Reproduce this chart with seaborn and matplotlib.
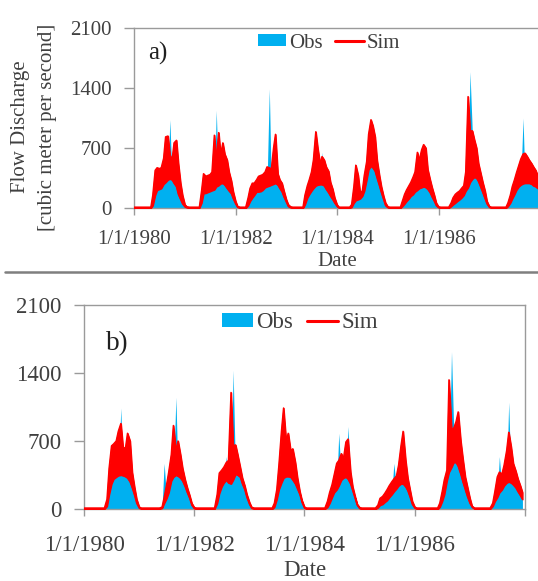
import matplotlib
matplotlib.use("Agg")
import matplotlib.pyplot as plt
from matplotlib.patches import Patch
from matplotlib.lines import Line2D
import numpy as np
import pandas as pd
import seaborn as sns

# ---------------------------------------------------------------
# Flow discharge (cubic meter per second), semi-monthly steps,
# one row per year 1980..1987 (24 values per row).
# obs      : observed discharge
# sim_low  : lower envelope of the simulated discharge
# sim_high : upper envelope of the simulated discharge
# ---------------------------------------------------------------

obs_a = [
    0, 0, 0, 0, 0, 0, 0, 0, 0, 30, 150, 210, 220, 230, 280, 300, 330, 1030, 330, 290, 250, 160, 100, 50,
    15, 5, 0, 0, 0, 0, 0, 0, 60, 170, 175, 185, 195, 205, 215, 1140, 265, 285, 290, 270, 230, 200, 170, 110,
    50, 10, 0, 0, 0, 0, 30, 80, 120, 150, 190, 190, 195, 210, 240, 250, 1390, 270, 280, 290, 270, 230, 190, 130,
    70, 20, 5, 0, 0, 0, 0, 0, 0, 40, 120, 160, 200, 230, 260, 270, 275, 650, 260, 220, 180, 140, 100, 60,
    20, 0, 0, 0, 0, 0, 0, 10, 60, 90, 100, 110, 140, 200, 330, 450, 490, 470, 430, 350, 260, 180, 100, 30,
    5, 0, 0, 0, 0, 0, 0, 20, 50, 80, 110, 140, 160, 190, 210, 230, 240, 250, 240, 220, 180, 130, 80, 30,
    5, 0, 0, 0, 0, 0, 20, 40, 60, 80, 100, 120, 150, 200, 240, 1590, 880, 360, 350, 310, 240, 180, 110, 50,
    10, 0, 0, 0, 0, 0, 0, 0, 0, 20, 60, 110, 160, 210, 250, 270, 1050, 290, 290, 290, 280, 260, 250, 230,
]
sim_low_a = [
    0, 0, 0, 0, 0, 0, 0, 0, 0, 30, 150, 210, 220, 230, 280, 300, 330, 340, 330, 290, 250, 160, 100, 50,
    15, 5, 0, 0, 0, 0, 0, 0, 60, 170, 175, 185, 195, 205, 215, 250, 265, 285, 290, 270, 230, 200, 170, 110,
    50, 10, 0, 0, 0, 0, 30, 80, 120, 150, 190, 190, 195, 210, 240, 250, 260, 270, 280, 290, 270, 230, 190, 130,
    70, 20, 5, 0, 0, 0, 0, 0, 0, 40, 120, 160, 200, 230, 260, 270, 275, 275, 260, 220, 180, 140, 100, 60,
    20, 0, 0, 0, 0, 0, 0, 10, 60, 90, 100, 110, 140, 200, 330, 450, 490, 470, 430, 350, 260, 180, 100, 30,
    5, 0, 0, 0, 0, 0, 0, 20, 50, 80, 110, 140, 160, 190, 210, 230, 240, 250, 240, 220, 180, 130, 80, 30,
    5, 0, 0, 0, 0, 0, 20, 40, 60, 80, 100, 120, 150, 200, 240, 300, 340, 360, 350, 310, 240, 180, 110, 50,
    10, 0, 0, 0, 0, 0, 0, 0, 0, 20, 60, 110, 160, 210, 250, 270, 285, 290, 290, 290, 280, 260, 250, 230,
]
sim_high_a = [
    10, 10, 10, 10, 10, 10, 10, 10, 10, 150, 440, 470, 460, 470, 580, 830, 840, 620, 560, 760, 790, 520, 290, 150,
    40, 15, 10, 10, 10, 10, 10, 10, 200, 400, 370, 380, 390, 420, 850, 560, 880, 620, 760, 630, 560, 420, 320, 190,
    80, 20, 10, 10, 10, 10, 120, 230, 290, 290, 330, 370, 380, 390, 420, 480, 470, 450, 700, 860, 400, 330, 290, 200,
    100, 40, 15, 10, 10, 10, 10, 10, 10, 150, 260, 330, 420, 560, 890, 700, 520, 600, 560, 480, 430, 300, 220, 120,
    40, 10, 10, 10, 10, 10, 10, 40, 250, 500, 380, 180, 200, 380, 540, 860, 1030, 960, 830, 560, 380, 250, 140, 60,
    15, 10, 10, 10, 10, 10, 10, 80, 160, 210, 260, 300, 360, 420, 650, 560, 680, 740, 700, 450, 330, 240, 150, 60,
    15, 10, 10, 10, 10, 10, 60, 120, 160, 180, 200, 230, 260, 420, 1300, 900, 900, 800, 700, 520, 400, 300, 200, 80,
    20, 10, 10, 10, 10, 10, 10, 10, 10, 60, 150, 250, 330, 410, 500, 570, 630, 640, 600, 560, 520, 480, 440, 380,
]

obs_b = [
    0, 0, 0, 0, 0, 0, 0, 0, 0, 0, 30, 150, 260, 310, 330, 345, 1040, 345, 335, 320, 280, 220, 140, 60,
    10, 0, 0, 0, 0, 0, 0, 0, 0, 0, 10, 470, 110, 170, 290, 330, 1150, 340, 320, 290, 230, 170, 110, 40,
    5, 0, 0, 0, 0, 0, 0, 0, 0, 0, 60, 160, 230, 270, 540, 270, 260, 1430, 360, 350, 330, 260, 200, 120,
    50, 10, 0, 0, 0, 0, 0, 0, 0, 0, 0, 20, 100, 200, 270, 320, 335, 335, 330, 300, 260, 210, 150, 70,
    10, 0, 0, 0, 0, 0, 0, 0, 0, 0, 20, 60, 120, 170, 200, 780, 300, 320, 330, 850, 260, 190, 110, 40,
    5, 0, 0, 0, 0, 0, 0, 0, 15, 40, 50, 70, 90, 120, 150, 470, 210, 240, 260, 260, 230, 190, 120, 50,
    10, 0, 0, 0, 0, 0, 0, 0, 0, 0, 0, 20, 80, 150, 290, 380, 1620, 860, 480, 440, 360, 280, 200, 130,
    60, 20, 0, 0, 0, 0, 0, 0, 0, 0, 30, 80, 120, 540, 200, 240, 270, 1100, 270, 250, 220, 180, 140, 100,
]
sim_low_b = [
    0, 0, 0, 0, 0, 0, 0, 0, 0, 0, 30, 150, 260, 310, 330, 345, 350, 345, 335, 320, 280, 220, 140, 60,
    10, 0, 0, 0, 0, 0, 0, 0, 0, 0, 10, 60, 110, 170, 290, 330, 350, 340, 320, 290, 230, 170, 110, 40,
    5, 0, 0, 0, 0, 0, 0, 0, 0, 0, 60, 160, 230, 270, 300, 270, 260, 300, 360, 350, 330, 260, 200, 120,
    50, 10, 0, 0, 0, 0, 0, 0, 0, 0, 0, 20, 100, 200, 270, 320, 335, 335, 330, 300, 260, 210, 150, 70,
    10, 0, 0, 0, 0, 0, 0, 0, 0, 0, 20, 60, 120, 170, 200, 240, 300, 320, 330, 310, 260, 190, 110, 40,
    5, 0, 0, 0, 0, 0, 0, 0, 15, 40, 50, 70, 90, 120, 150, 180, 210, 240, 260, 260, 230, 190, 120, 50,
    10, 0, 0, 0, 0, 0, 0, 0, 0, 0, 0, 20, 80, 150, 290, 380, 430, 480, 480, 440, 360, 280, 200, 130,
    60, 20, 0, 0, 0, 0, 0, 0, 0, 0, 30, 80, 120, 170, 200, 240, 270, 280, 270, 250, 220, 180, 140, 100,
]
sim_high_b = [
    10, 10, 10, 10, 10, 10, 10, 10, 10, 10, 100, 420, 650, 670, 700, 800, 880, 640, 620, 780, 700, 380, 220, 100,
    20, 10, 10, 10, 10, 10, 10, 10, 10, 10, 20, 120, 250, 380, 560, 860, 600, 700, 560, 420, 300, 220, 140, 60,
    15, 10, 10, 10, 10, 10, 10, 10, 10, 10, 150, 370, 400, 430, 480, 500, 1200, 650, 660, 560, 430, 320, 240, 150,
    70, 20, 10, 10, 10, 10, 10, 10, 10, 10, 10, 60, 200, 450, 800, 1040, 700, 780, 600, 620, 480, 320, 180, 90,
    20, 10, 10, 10, 10, 10, 10, 10, 10, 10, 80, 170, 250, 350, 470, 500, 570, 520, 690, 720, 380, 230, 130, 50,
    15, 10, 10, 10, 10, 10, 10, 10, 40, 110, 130, 160, 200, 240, 280, 310, 340, 450, 650, 800, 500, 320, 190, 80,
    20, 10, 10, 10, 10, 10, 10, 10, 10, 10, 10, 60, 180, 300, 400, 1330, 820, 830, 900, 1000, 700, 520, 330, 230,
    110, 30, 10, 10, 10, 10, 10, 10, 10, 10, 60, 180, 330, 380, 360, 450, 600, 790, 640, 470, 390, 310, 240, 170,
]

dates = pd.date_range("1980-01-01", periods=len(obs_a), freq="SMS")
y_ticks = [0, 700, 1400, 2100]
tick_years = [1980, 1982, 1984, 1986, 1988]
tick_labels = ["1/1/1980", "1/1/1982", "1/1/1984", "1/1/1986", ""]

OBS_COLOR = "#00B0F0"
SIM_COLOR = "#FF0000"
TEXT_COLOR = "#404040"
SPINE_COLOR = "#9a9a9a"

sns.set_style("ticks")
plt.rcParams["font.family"] = ["Liberation Serif", "DejaVu Serif"]

W, H = 538, 581
fig = plt.figure(figsize=(W / 100, H / 100), dpi=100)


def px_axes(left, top, right, bottom):
    return fig.add_axes([left / W, 1 - bottom / H, (right - left) / W, (bottom - top) / H])


def draw_panel(ax, obs, sim_low, sim_high, fs, letter, letter_pos, xpad):
    df = pd.DataFrame({"Date": dates, "Obs": obs, "SimLow": sim_low, "SimHigh": sim_high})
    ax.fill_between(df["Date"], 0, df["Obs"], color=OBS_COLOR, lw=0, zorder=2)
    ax.fill_between(df["Date"], df["SimLow"], df["SimHigh"], facecolor=SIM_COLOR,
                    edgecolor=SIM_COLOR, lw=1.0, zorder=3)
    sns.lineplot(data=df, x="Date", y="SimHigh", ax=ax, color=SIM_COLOR, lw=1.0, zorder=4)
    sns.lineplot(data=df, x="Date", y="SimLow", ax=ax, color=SIM_COLOR, lw=1.0, zorder=4)

    ax.set_xlim(pd.Timestamp("1980-01-01"), pd.Timestamp("1988-01-01"))
    ax.set_ylim(0, 2100)
    ax.set_yticks(y_ticks)
    ax.set_yticklabels([str(v) for v in y_ticks])
    ax.set_xticks([pd.Timestamp(f"{y}-01-01") for y in tick_years])
    ax.set_xticklabels(tick_labels)
    ax.set_ylabel("")
    ax.set_xlabel("Date", fontsize=fs, color=TEXT_COLOR)
    ax.tick_params(axis="y", length=7, width=1, color=SPINE_COLOR, pad=9,
                   labelsize=fs, labelcolor=TEXT_COLOR)
    ax.tick_params(axis="x", length=5, width=1, color=SPINE_COLOR, pad=xpad,
                   labelsize=fs, labelcolor=TEXT_COLOR)
    for s in ax.spines.values():
        s.set_color(SPINE_COLOR)
        s.set_linewidth(1.0)
        s.set_visible(True)
    ax.text(letter_pos[0], letter_pos[1], letter, transform=ax.transAxes,
            fontsize=fs + 3, color="#202020", ha="left", va="center")


# panel a
ax_a = px_axes(134, 28, 540, 208)
draw_panel(ax_a, obs_a, sim_low_a, sim_high_a, 15, "a)", (0.035, 0.86), 11)
ax_a.xaxis.set_label_coords(0.5, -0.30)
ax_a.xaxis.label.set_va("center")

# panel b
ax_b = px_axes(84, 305, 525, 509)
draw_panel(ax_b, obs_b, sim_low_b, sim_high_b, 16.5, "b)", (0.05, 0.81), 14)
ax_b.xaxis.set_label_coords(0.5, -0.30)
ax_b.xaxis.label.set_va("center")

handles = [Patch(facecolor=OBS_COLOR, edgecolor="none", label="Obs"),
           Line2D([0], [0], color=SIM_COLOR, lw=2.2, label="Sim")]
for ax, fs, cx, cy in [(ax_a, 15, 329, 43), (ax_b, 16.5, 300, 323)]:
    fig.legend(handles=handles, loc="center", bbox_to_anchor=(cx / W, 1 - cy / H),
               ncol=2, frameon=False, fontsize=fs, handlelength=1.35, handleheight=0.55,
               handletextpad=0.15, columnspacing=0.6, borderpad=0, labelcolor=TEXT_COLOR)

# axis title of the upper panel, on two lines
fig.text(21 / W, 1 - 127 / H, "Flow Discharge", rotation=90, ha="center", va="center",
         fontsize=15, color=TEXT_COLOR)
fig.text(48 / W, 1 - 127 / H, "[cubic meter per second]", rotation=90, ha="center",
         va="center", fontsize=15, color=TEXT_COLOR)

# divider between the two panels
fig.add_artist(Line2D([5 / W, 1.0], [1 - 272 / H] * 2, transform=fig.transFigure,
                      color="#7f7f7f", lw=1.8))

fig.savefig("out.png", dpi=100)
